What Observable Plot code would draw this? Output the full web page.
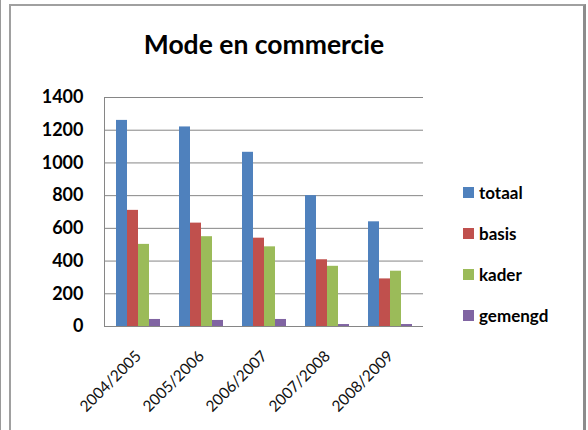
<!DOCTYPE html>
<html>
<head>
<meta charset="utf-8">
<script src="https://cdn.jsdelivr.net/npm/d3@7"></script>
<script src="https://cdn.jsdelivr.net/npm/@observablehq/plot@0.6"></script>
<style>
  html, body { margin: 0; padding: 0; background: #fff; }
  #wrap { position: relative; width: 588px; height: 430px; overflow: hidden; background: #fff; font-family: Lato, "DejaVu Sans", sans-serif; }
  #outer { position: absolute; left: 0; top: 0; width: 1px; height: 430px; background: #9a9a9a; }
  #frame { position: absolute; left: 9px; top: 4px; width: 572px; height: 440px; border-left: 2px solid #a0a0a0; border-top: 2px solid #a0a0a0; border-right: 3px solid #8c8c8c; box-sizing: content-box; }
  #title { position: absolute; left: 0; width: 528px; top: 28px; text-align: center; font-size: 26.5px; font-weight: bold; color: #000; }
  .layer { position: absolute; left: 0; top: 0; }
  #legend { position: absolute; left: 463px; top: 172px; }
  .item { display: flex; align-items: center; height: 41px; font-size: 17px; font-weight: bold; color: #000; }
  .sw { width: 11px; height: 11px; margin-right: 5px; }
</style>
</head>
<body>
<div id="wrap">
  <div id="outer"></div>
  <div id="frame"></div>
  <div id="title">Mode en commercie</div>
  <div id="back" class="layer"></div>
  <div id="front" class="layer"></div>
  <div id="legend"></div>
</div>
<script>
const years = ["2004/2005", "2005/2006", "2006/2007", "2007/2008", "2008/2009"];
const series = ["totaal", "basis", "kader", "gemengd"];
const totaal = [1260, 1220, 1065, 800, 640];
const basis = [710, 632, 540, 408, 291];
const kader = [502, 549, 487, 368, 338];
const gemengd = [43, 37, 43, 12, 12];
const yTicks = [0, 200, 400, 600, 800, 1000, 1200, 1400];
const colors = ["#4F81BD", "#C0504D", "#9BBB59", "#8064A2"];

const valuesBySeries = {totaal, basis, kader, gemengd};
const rows = [];
years.forEach((y, i) => series.forEach(s => rows.push({year: y, series: s, value: valuesBySeries[s][i]})));

const common = {
  width: 588,
  height: 430,
  marginLeft: 104,
  marginRight: 165,
  marginTop: 97,
  marginBottom: 104,
  style: {background: "transparent", fontFamily: "Lato, 'DejaVu Sans', sans-serif", color: "#000"}
};

// Background: gridlines, axes and the category labels
const back = Plot.plot({
  ...common,
  x: {domain: years, paddingInner: 0.27, paddingOuter: 0.135, label: null},
  y: {domain: [0, 1400], label: null},
  marks: [
    Plot.ruleY(yTicks, {stroke: "#868686", strokeWidth: 1}),
    Plot.frame({anchor: "left", stroke: "#868686"}),
    Plot.axisY({ticks: yTicks, tickFormat: d => String(d), tickSize: 0, tickPadding: 21, fontSize: 18, fontWeight: "bold", fill: "#000", label: null}),
    Plot.axisX({tickRotate: -45, tickSize: 0, tickPadding: 27, fontSize: 15.5, fill: "#111", label: null})
  ]
});
document.getElementById("back").appendChild(back);

// Foreground: grouped bars
const front = Plot.plot({
  ...common,
  fx: {domain: years, paddingInner: 0.27, paddingOuter: 0.135, axis: null, label: null},
  x: {domain: series, padding: 0, axis: null},
  y: {domain: [0, 1400], axis: null},
  color: {domain: series, range: colors},
  marks: [
    Plot.barY(rows, {fx: "year", x: "series", y: "value", fill: "series"})
  ]
});
document.getElementById("front").appendChild(front);

const legend = document.getElementById("legend");
series.forEach((s, i) => {
  const item = document.createElement("div");
  item.className = "item";
  const sw = document.createElement("div");
  sw.className = "sw";
  sw.style.background = colors[i];
  const t = document.createElement("span");
  t.textContent = s;
  item.appendChild(sw);
  item.appendChild(t);
  legend.appendChild(item);
});
</script>
</body>
</html>
